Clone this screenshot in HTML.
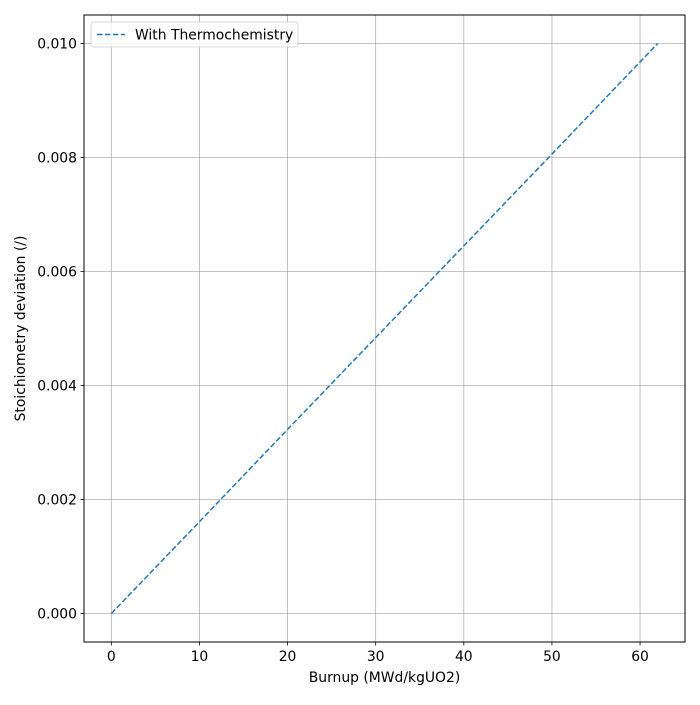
<!DOCTYPE html>
<html><head><meta charset="utf-8">
<style>
body{margin:0;background:#fff;}
svg text{font-family:"DejaVu Sans","Liberation Sans",sans-serif;font-size:13.9px;fill:#000;}
</style></head>
<body>
<svg id="chart" width="700" height="700" xmlns="http://www.w3.org/2000/svg"></svg>
<script>
const burnup = [0, 10, 20, 30, 40, 50, 62];
const stoich = [0, 0.00161, 0.00323, 0.00484, 0.00645, 0.00806, 0.0100];
const xTicks = [0, 10, 20, 30, 40, 50, 60];
const yTicks = [0, 0.002, 0.004, 0.006, 0.008, 0.010];
const yTickLabels = ["0.000","0.002","0.004","0.006","0.008","0.010"];

const L=84,R=685,T=15,B=642;
const xMin=-3.1,xMax=65.1,yMin=-0.0005,yMax=0.0105;
const sx=v=>L+(v-xMin)/(xMax-xMin)*(R-L);
const sy=v=>B-(v-yMin)/(yMax-yMin)*(B-T);
const svg=document.getElementById('chart');
const NS="http://www.w3.org/2000/svg";
function mk(tag,attrs,parent){const e=document.createElementNS(NS,tag);for(const k in attrs)e.setAttribute(k,attrs[k]);(parent||svg).appendChild(e);return e;}

const grid=mk('g',{});


xTicks.forEach(t=>{
  const x=sx(t);
  mk('line',{x1:x,x2:x,y1:T,y2:B,stroke:'#b0b0b0','stroke-width':0.8},grid);
  mk('line',{x1:x,x2:x,y1:B,y2:B+3.5,stroke:'#000','stroke-width':0.8});
  const tx=mk('text',{x:x,y:B+19,'text-anchor':'middle'});
  tx.textContent=t;
  
  
});
yTicks.forEach((t,i)=>{
  const y=sy(t);
  mk('line',{x1:L,x2:R,y1:y,y2:y,stroke:'#b0b0b0','stroke-width':0.8},grid);
  mk('line',{x1:L-3.5,x2:L,y1:y,y2:y,stroke:'#000','stroke-width':0.8});
  const tx=mk('text',{x:L-7,y:y+5,'text-anchor':'end'});
  tx.textContent=yTickLabels[i];
  
  
});

const pts=burnup.map((b,i)=>sx(b)+','+sy(stoich[i])).join(' ');
const line=mk('polyline',{points:pts,fill:'none',stroke:'#1f77b4','stroke-width':1.5,'stroke-dasharray':'5.55,2.4'});



const frame=mk('rect',{x:L,y:T,width:R-L,height:B-T,fill:'none',stroke:'#000','stroke-width':1});



const xl=mk('text',{x:(L+R)/2,y:682,'text-anchor':'middle'});
xl.textContent='Burnup (MWd/kgUO2)';


const yl=mk('text',{x:0,y:0,'text-anchor':'middle',transform:'translate(25,'+((T+B)/2)+') rotate(-90)'});
yl.textContent='Stoichiometry deviation (/)';



const lg=mk('g',{});


mk('rect',{x:91,y:22,width:207,height:25,rx:3,fill:'#fff','fill-opacity':0.8,stroke:'#ccc','stroke-width':0.8},lg);
mk('line',{x1:97,x2:125,y1:34.5,y2:34.5,stroke:'#1f77b4','stroke-width':1.5,'stroke-dasharray':'5.55,2.4'},lg);
const lt=mk('text',{x:135,y:39.5},lg);
lt.textContent='With Thermochemistry';


</script>
</body></html>
